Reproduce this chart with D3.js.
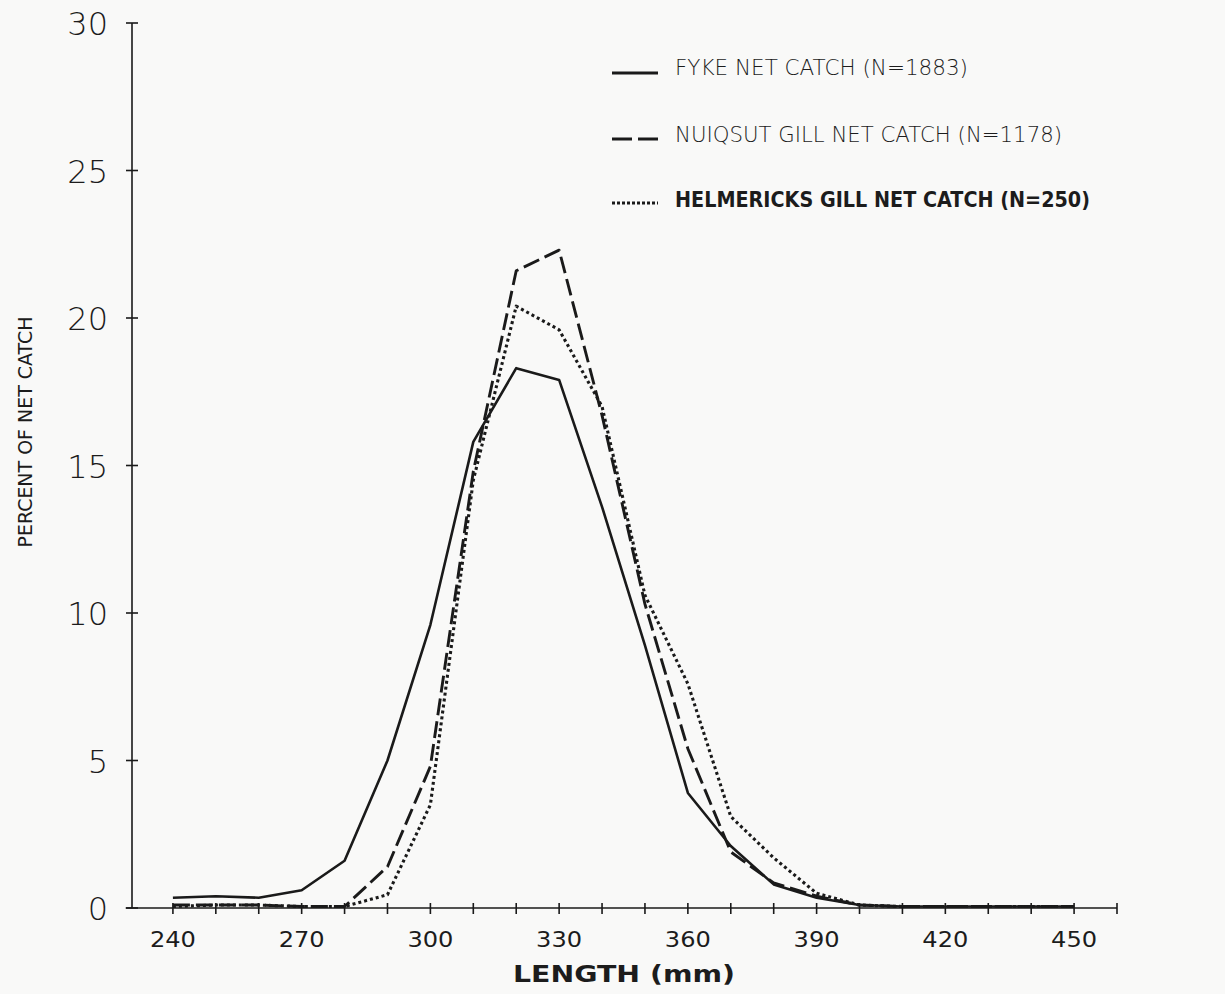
<!DOCTYPE html>
<html>
<head>
<meta charset="utf-8">
<script src="https://cdn.jsdelivr.net/npm/d3@7"></script>
<style>
  html, body { margin: 0; padding: 0; background: #f9f9f8; }
  svg { display: block; }
  text { fill: #1c1c1c; }
</style>
</head>
<body>
<svg id="chart" width="1225" height="994"></svg>
<script>
// Length classes (mm)
const lengths = [240, 250, 260, 270, 280, 290, 300, 310, 320, 330, 340,
                 350, 360, 370, 380, 390, 400, 410, 420, 430, 440, 450];

// Percent of catch in each length class
const fykeNet = [0.35, 0.4, 0.35, 0.6, 1.6, 5.0, 9.6, 15.8, 18.3, 17.9, 13.6,
                 8.9, 3.9, 2.1, 0.8, 0.35, 0.1, 0.05, 0.05, 0.05, 0.05, 0.05];
const nuiqsutGillNet = [0.1, 0.1, 0.1, 0.05, 0.05, 1.4, 4.8, 14.8, 21.6, 22.3, 16.7,
                        10.3, 5.4, 1.9, 0.85, 0.4, 0.1, 0.05, 0.05, 0.05, 0.05, 0.05];
const helmericksGillNet = [0.05, 0.1, 0.1, 0.05, 0.05, 0.45, 3.5, 14.5, 20.4, 19.6, 17.0,
                           10.6, 7.6, 3.1, 1.7, 0.5, 0.1, 0.05, 0.05, 0.05, 0.05, 0.05];

const seriesNames = ["FYKE NET CATCH (N=1883)",
                     "NUIQSUT GILL NET CATCH (N=1178)",
                     "HELMERICKS GILL NET CATCH (N=250)"];

const xTickLabels = [240, 270, 300, 330, 360, 390, 420, 450];
const yTickLabels = [0, 5, 10, 15, 20, 25, 30];

const series = [
  { name: seriesNames[0], values: fykeNet, dash: null, bold: false, len: 293, w: 2.6 },
  { name: seriesNames[1], values: nuiqsutGillNet, dash: "17,6", bold: false, len: 387, w: 2.9 },
  { name: seriesNames[2], values: helmericksGillNet, dash: "3,3", bold: true, len: 415, w: 3.1 }
];

const svg = d3.select("#chart");
const ink = "#1a1a1a";

const x = d3.scaleLinear().domain([230, 460]).range([130, 1117]);
const y = d3.scaleLinear().domain([0, 30]).range([908, 23]);

// X axis: ticks every 10 mm crossing the line, labels every 30 mm
const xAxis = svg.append("g");
xAxis.append("line")
  .attr("x1", x(229)).attr("x2", x(460))
  .attr("y1", y(0)).attr("y2", y(0))
  .attr("stroke", ink).attr("stroke-width", 1.6);
xAxis.selectAll("line.tick")
  .data(d3.range(240, 461, 10))
  .join("line")
  .attr("class", "tick")
  .attr("x1", d => x(d)).attr("x2", d => x(d))
  .attr("y1", y(0) - 5).attr("y2", y(0) + 6)
  .attr("stroke", ink).attr("stroke-width", 1.6);
xAxis.selectAll("text")
  .data(xTickLabels)
  .join("text")
  .attr("x", d => x(d))
  .attr("y", 947)
  .attr("text-anchor", "middle")
  .attr("font-family", "'DejaVu Sans', sans-serif")
  .attr("font-size", 21)
  .attr("textLength", 46)
  .attr("lengthAdjust", "spacingAndGlyphs")
  .text(d => d);

// Y axis: crossing ticks at every labelled value
const yAxis = svg.append("g");
yAxis.append("line")
  .attr("x1", x(230) + 2).attr("x2", x(230) + 2)
  .attr("y1", y(30)).attr("y2", y(0))
  .attr("stroke", ink).attr("stroke-width", 1.6);
yAxis.selectAll("line.tick")
  .data(yTickLabels)
  .join("line")
  .attr("class", "tick")
  .attr("x1", x(230) - 4).attr("x2", x(230) + 8)
  .attr("y1", d => y(d)).attr("y2", d => y(d))
  .attr("stroke", ink).attr("stroke-width", 1.6);
yAxis.selectAll("text")
  .data(yTickLabels)
  .join("text")
  .attr("x", 108)
  .attr("y", d => y(d) + 12)
  .attr("text-anchor", "end")
  .attr("font-family", "'DejaVu Sans', sans-serif")
  .attr("font-weight", 300)
  .attr("font-size", 32)
  .attr("fill", "#2a2a2a")
  .text(d => d);

// Axis titles
svg.append("text")
  .attr("x", 624).attr("y", 982)
  .attr("text-anchor", "middle")
  .attr("font-family", "'DejaVu Sans', sans-serif")
  .attr("font-weight", "bold")
  .attr("font-size", 23)
  .attr("textLength", 222)
  .attr("lengthAdjust", "spacingAndGlyphs")
  .text("LENGTH (mm)");

svg.append("text")
  .attr("transform", "translate(32,432) rotate(-90)")
  .attr("text-anchor", "middle")
  .attr("font-family", "'DejaVu Sans', sans-serif")
  .attr("font-size", 19)
  .attr("textLength", 231)
  .attr("lengthAdjust", "spacingAndGlyphs")
  .text("PERCENT OF NET CATCH");

// Series lines
const line = d3.line()
  .x((d, i) => x(lengths[i]))
  .y(d => y(d));

svg.append("g")
  .selectAll("path")
  .data(series)
  .join("path")
  .attr("d", d => line(d.values))
  .attr("fill", "none")
  .attr("stroke", ink)
  .attr("stroke-width", d => d.w)
  .attr("stroke-linejoin", "round")
  .attr("stroke-dasharray", d => d.dash);

// Legend
const legendRows = [73, 139, 203];
const legendBase = [75, 142, 207];
const legend = svg.append("g");
legend.selectAll("line")
  .data(series)
  .join("line")
  .attr("x1", 612).attr("x2", 658)
  .attr("y1", (d, i) => legendRows[i]).attr("y2", (d, i) => legendRows[i])
  .attr("stroke", ink)
  .attr("stroke-width", 2.8)
  .attr("stroke-dasharray", d => d.dash ? (d.bold ? "3,2" : "20,6") : null);
legend.selectAll("text")
  .data(series)
  .join("text")
  .attr("x", 675)
  .attr("y", (d, i) => legendBase[i])
  .attr("font-family", "'DejaVu Sans', sans-serif")
  .attr("font-weight", d => d.bold ? "bold" : 300)
  .attr("font-size", d => d.bold ? 22 : 21)
  .attr("textLength", d => d.len)
  .attr("lengthAdjust", "spacingAndGlyphs")
  .text(d => d.name);
</script>
</body>
</html>
